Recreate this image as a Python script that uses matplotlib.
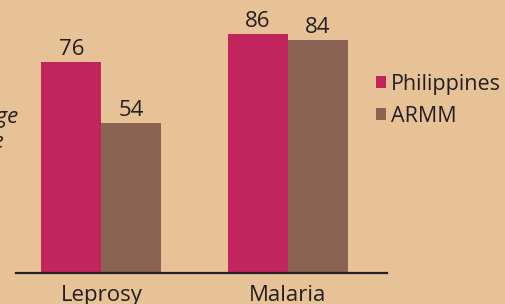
import numpy as np
import matplotlib
matplotlib.use('Agg')
import matplotlib.pyplot as plt

# data
diseases = ['Leprosy', 'Malaria']
philippines = [76, 86]
armm = [54, 84]
series_names = ['Philippines', 'ARMM']

bg = '#E7C296'
c_ph = '#C2255C'
c_armm = '#8A6352'
txt = '#231F20'

plt.rcParams['font.family'] = ['Open Sans', 'DejaVu Sans']

W, H = 505, 304
fig = plt.figure(figsize=(W / 100, H / 100), dpi=100, facecolor=bg)

# axes placed in pixel terms: baseline at y=273, line from x=16 to x=387
ax = fig.add_axes([16 / W, 31 / H, (387 - 16) / W, 264 / H])
ax.set_facecolor(bg)

x = np.arange(len(diseases))
w = 0.322
b1 = ax.bar(x - w / 2, philippines, w, color=c_ph, label=series_names[0])
b2 = ax.bar(x + w / 2, armm, w, color=c_armm, label=series_names[1])

ax.set_xlim(-0.458, 1.533)
ax.set_ylim(0, 95)

for s in ['top', 'right', 'left']:
    ax.spines[s].set_visible(False)
ax.spines['bottom'].set_color(txt)
ax.spines['bottom'].set_linewidth(1.6)
ax.set_yticks([])
ax.set_xticks([])

# value labels
for bars in (b1, b2):
    for r in bars:
        v = r.get_height()
        ax.annotate(f'{v:g}', (r.get_x() + r.get_width() / 2, v),
                    xytext=(0, 7), textcoords='offset pixels',
                    ha='center', va='baseline', fontsize=16, color=txt)

# category labels (cut off at the bottom edge like the original)
for xi, name in zip(x, diseases):
    ax.annotate(name, (xi, 0), xytext=(0, -28), textcoords='offset pixels',
                ha='center', va='baseline', fontsize=16, color=txt,
                annotation_clip=False)

# y label fragment, mostly off the left edge
fig.text(18 / W, 1 - 123 / H, 'Percentage', ha='right', va='baseline',
         fontsize=16, style='italic', color=txt)
fig.text(4 / W, 1 - 148 / H, 'rate', ha='right', va='baseline',
         fontsize=16, style='italic', color=txt)

leg = ax.legend(loc='upper left', bbox_to_anchor=(376 / W, 1 - 74 / H),
                bbox_transform=fig.transFigure, frameon=False,
                fontsize=15.5, handlelength=0.45, handleheight=0.5,
                handletextpad=0.25, labelspacing=0.5,
                borderpad=0, borderaxespad=0)
for t in leg.get_texts():
    t.set_color(txt)

fig.savefig('out.png', dpi=100, facecolor=bg)
